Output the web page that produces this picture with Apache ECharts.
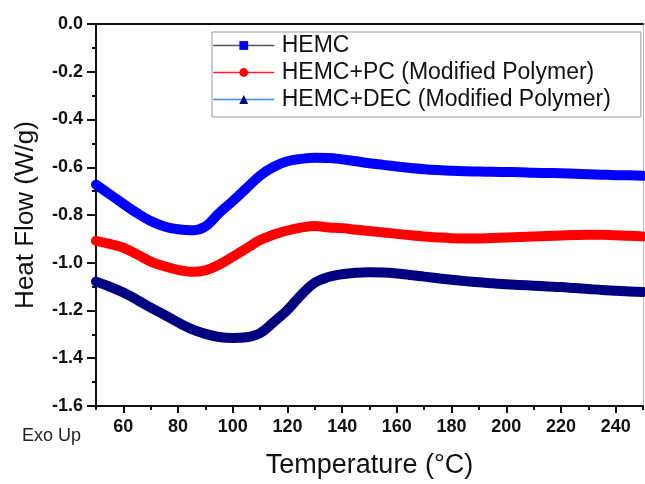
<!DOCTYPE html>
<html><head><meta charset="utf-8">
<script src="https://cdn.jsdelivr.net/npm/echarts@6/dist/echarts.min.js"></script>
<style>html,body{margin:0;padding:0;background:#fff}#c{width:645px;height:484px}</style>
</head><body><div id="c"></div>
<script>
const temps = [50,55,60,65,70,75,80,85,90,95,100,105,110,115,120,125,130,135,140,145,150,155,160,165,170,175,180,185,190,195,200,205,210,215,220,225,230,235,240,245,250];
const hemc = [-0.673,-0.713,-0.753,-0.792,-0.825,-0.848,-0.860,-0.864,-0.848,-0.792,-0.742,-0.688,-0.635,-0.598,-0.575,-0.565,-0.560,-0.561,-0.567,-0.575,-0.583,-0.590,-0.597,-0.603,-0.608,-0.612,-0.615,-0.617,-0.618,-0.619,-0.620,-0.621,-0.623,-0.624,-0.625,-0.627,-0.629,-0.631,-0.633,-0.634,-0.636];
const hemcPC = [-0.908,-0.921,-0.937,-0.965,-0.995,-1.015,-1.030,-1.038,-1.032,-1.008,-0.975,-0.940,-0.905,-0.882,-0.865,-0.853,-0.846,-0.852,-0.855,-0.862,-0.867,-0.873,-0.879,-0.885,-0.890,-0.894,-0.897,-0.898,-0.898,-0.896,-0.894,-0.892,-0.890,-0.888,-0.886,-0.884,-0.883,-0.883,-0.885,-0.887,-0.890];
const hemcDEC = [-1.079,-1.100,-1.125,-1.155,-1.188,-1.218,-1.250,-1.278,-1.298,-1.311,-1.315,-1.312,-1.295,-1.248,-1.198,-1.135,-1.083,-1.060,-1.048,-1.042,-1.040,-1.041,-1.045,-1.051,-1.058,-1.065,-1.071,-1.077,-1.082,-1.086,-1.090,-1.093,-1.096,-1.099,-1.102,-1.106,-1.110,-1.114,-1.117,-1.120,-1.122];
const seriesNames = ['HEMC','HEMC+PC (Modified Polymer)','HEMC+DEC (Modified Polymer)'];
const xMajorTicks = [60,80,100,120,140,160,180,200,220,240];
const xMinorTicks = [50,70,90,110,130,150,170,190,210,230,250];

const FONT = 'Arial, "Liberation Sans", sans-serif';
const chart = echarts.init(document.getElementById('c'));
const pairs = arr => temps.map((t, i) => [t, arr[i]]);
const mkSeries = (name, arr, color, symbol) => ({
  name, type: 'line', data: pairs(arr), xAxisIndex: 0, yAxisIndex: 0,
  symbol, showSymbol: false, smooth: 0.4, silent: true,
  lineStyle: {width: 10, color, cap: 'round', join: 'round'},
  itemStyle: {color}
});
chart.setOption({
  animation: false,
  grid: {left: 96, right: 2, top: 24, bottom: 69, containLabel: false},
  legend: {
    orient: 'vertical', left: 212, top: 32,
    itemWidth: 60, itemHeight: 11, itemGap: 4,
    padding: [2, 30, 6, 1],
    borderColor: '#999', borderWidth: 1, backgroundColor: '#fff',
    textStyle: {fontSize: 23, color: '#111', fontFamily: FONT, lineHeight: 23, padding: [0, 0, 0, 3]},
    selectedMode: false,
    data: [
      {name: seriesNames[0], itemStyle: {color: '#0000ff', borderWidth: 0}, lineStyle: {color: '#555555', width: 1.5}},
      {name: seriesNames[1], itemStyle: {color: '#ff0000', borderWidth: 0}, lineStyle: {color: '#ff2020', width: 1.5}},
      {name: seriesNames[2], itemStyle: {color: '#000080', borderWidth: 0}, lineStyle: {color: '#3c8ce6', width: 1.5}}
    ]
  },
  xAxis: [
    {type: 'value', min: 50, max: 250, position: 'bottom',
     axisLine: {show: true, onZero: false, lineStyle: {color: '#111', width: 2}},
     axisTick: {show: true, customValues: xMajorTicks, length: 7, lineStyle: {color: '#111', width: 2}},
     axisLabel: {customValues: xMajorTicks, margin: 12, fontSize: 18, fontWeight: 'bold', color: '#111', fontFamily: FONT},
     splitLine: {show: false},
     name: 'Temperature (°C)', nameLocation: 'middle', nameGap: 46,
     nameTextStyle: {fontSize: 27, color: '#111', fontFamily: FONT}},
    {type: 'value', min: 50, max: 250, position: 'bottom',
     axisLine: {show: false, onZero: false},
     axisTick: {show: true, customValues: xMinorTicks, length: 4, lineStyle: {color: '#111', width: 2}},
     axisLabel: {show: false}, splitLine: {show: false}},
    {type: 'value', min: 50, max: 250, position: 'top',
     axisLine: {show: true, onZero: false, lineStyle: {color: '#111', width: 2}},
     axisTick: {show: false}, axisLabel: {show: false}, splitLine: {show: false}}
  ],
  yAxis: [
    {type: 'value', min: -1.6, max: 0, interval: 0.2, position: 'left',
     axisLine: {show: true, onZero: false, lineStyle: {color: '#111', width: 2}},
     axisTick: {show: true, length: 9, lineStyle: {color: '#111', width: 2}},
     minorTick: {show: true, splitNumber: 2, length: 4, lineStyle: {color: '#111', width: 2}},
     axisLabel: {formatter: v => v.toFixed(1), margin: 13, fontSize: 18, fontWeight: 'bold', color: '#111', fontFamily: FONT},
     splitLine: {show: false}, minorSplitLine: {show: false},
     name: 'Heat Flow (W/g)', nameLocation: 'middle', nameGap: 57,
     nameTextStyle: {fontSize: 26, color: '#111', fontFamily: FONT}},
    {type: 'value', min: -1.6, max: 0, position: 'right',
     axisLine: {show: true, onZero: false, lineStyle: {color: '#bbbbbb', width: 1}},
     axisTick: {show: false}, axisLabel: {show: false}, splitLine: {show: false}}
  ],
  graphic: [
    {type: 'text', left: 22, top: 427, style: {text: 'Exo Up', font: '18px ' + FONT, fill: '#222'}}
  ],
  series: [
    mkSeries(seriesNames[0], hemc, '#0000ff', 'rect'),
    mkSeries(seriesNames[1], hemcPC, '#ff0000', 'circle'),
    mkSeries(seriesNames[2], hemcDEC, '#000080', 'triangle')
  ]
});
</script></body></html>
